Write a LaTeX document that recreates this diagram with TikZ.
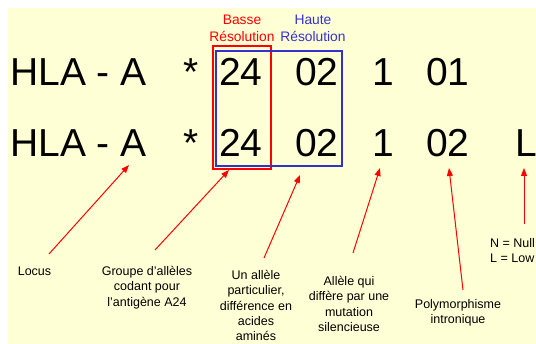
\documentclass[tikz,border=0pt]{standalone}
\usepackage{fontspec}
\setmainfont{Liberation Sans}
\usetikzlibrary{arrows.meta}
\definecolor{bg}{HTML}{FFFFD6}
\definecolor{hblue}{HTML}{3333CC}
\begin{document}
\begin{tikzpicture}[x=1pt,y=-1pt,
  big/.style={font=\fontsize{39}{39}\selectfont, inner sep=0pt, anchor=base west},
  reslabel/.style={font=\fontsize{13.8}{16.5}\selectfont, align=center, inner sep=0pt, anchor=north},
  note/.style={font=\fontsize{12.5}{15.3}\selectfont, align=center, inner sep=0pt, anchor=north},
  resbox/.style={line width=1.5pt},
  ptr/.style={red, line width=1pt, -{Triangle[length=8pt,width=6pt]}},
]
\useasboundingbox (0,0) rectangle (536,344);
\fill[bg] (8,8) rectangle (536,344);

% row 1
\node[big] (hla1) at (10,86) {HLA - A};
\node[big] (star1) at (183,86) {*};
\node[big] (g1) at (219,86) {24};
\node[big] (p1) at (295,86) {02};
\node[big] (s1) at (372,86) {1};
\node[big] (i1) at (426,86) {01};
% row 2
\node[big] (hla2) at (10,157) {HLA - A};
\node[big] (star2) at (183,157) {*};
\node[big] (g2) at (219,157) {24};
\node[big] (p2) at (295,157) {02};
\node[big] (s2) at (372,157) {1};
\node[big] (i2) at (426,157) {02};
\node[big] (e2) at (515,157) {L};

% resolution boxes
\draw[resbox, red] (213,46) rectangle (271,169);
\draw[resbox, hblue] (216,51) rectangle (342,166);
\node[reslabel, text=red] (basse) at (242,15) {Basse\\Résolution};
\node[reslabel, text=hblue] (haute) at (313,15) {Haute\\Résolution};

% notes
\node[note, anchor=base] (locus) at (34.5,276) {Locus};
\node[note] (groupe) at (147,266) {Groupe d’allèles\\codant pour\\l’antigène A24};
\node[note] (allele) at (256,270) {Un allèle\\particulier,\\différence en\\acides\\aminés};
\node[note] (silent) at (349,276) {Allèle qui\\diffère par une\\mutation\\silencieuse};
\node[note] (intron) at (458,299) {Polymorphisme\\intronique};
\node[note, align=left, anchor=north west] (expr) at (490,238) {N = Null\\L = Low};

% connector ends
\coordinate (t1) at (49,254);   \coordinate (h1) at (129,165);
\coordinate (t2) at (155,250);  \coordinate (h2) at (229,170);
\coordinate (t3) at (264,258);  \coordinate (h3) at (300,175);
\coordinate (t4) at (353,253);  \coordinate (h4) at (380,168);
\coordinate (t5) at (463,290);  \coordinate (h5) at (449,168);
\coordinate (t6) at (524,224);  \coordinate (h6) at (524,168);

\draw[ptr] (t1) -- (h1);
\draw[ptr] (t2) -- (h2);
\draw[ptr] (t3) -- (h3);
\draw[ptr] (t4) -- (h4);
\draw[ptr] (t5) -- (h5);
\draw[ptr] (t6) -- (h6);
\end{tikzpicture}
\end{document}
